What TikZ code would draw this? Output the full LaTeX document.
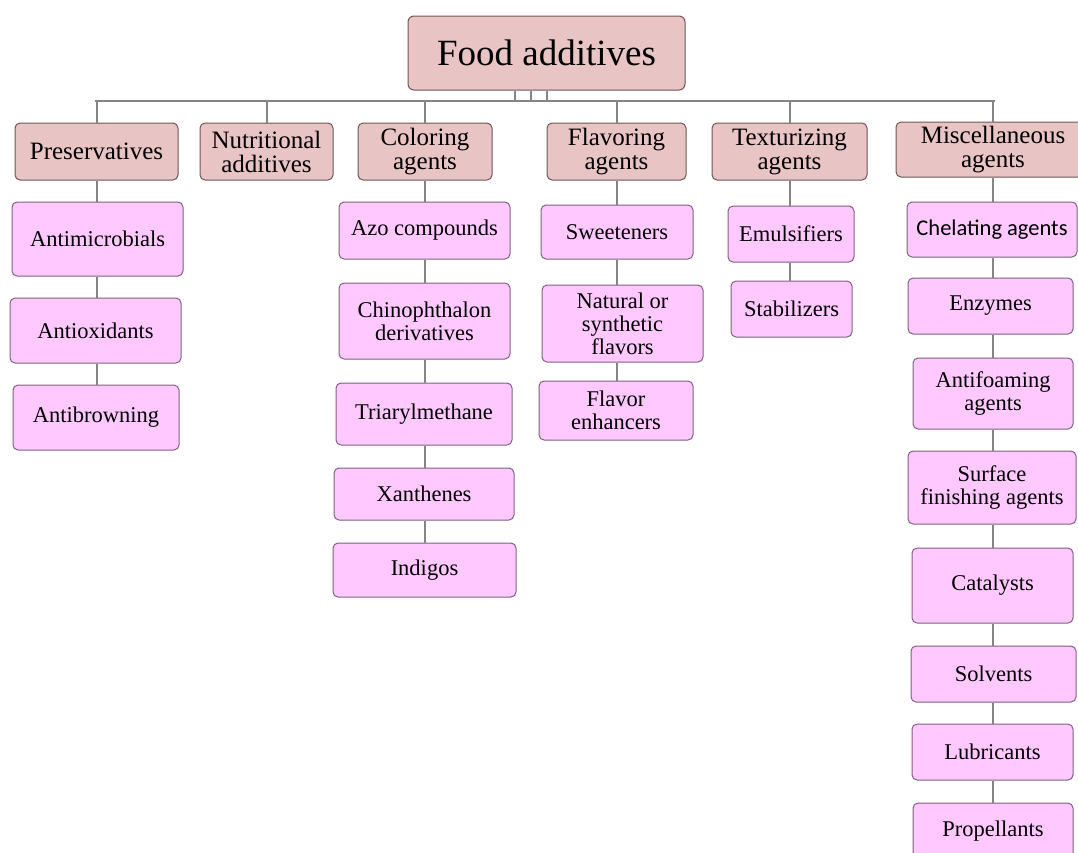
\documentclass[tikz,border=0pt]{standalone}
\usepackage{fontspec}
\setmainfont{Liberation Serif}
\newfontfamily\calibrifont{Carlito}
\usepackage{xcolor}
\definecolor{catfill}{RGB}{233,196,196}
\definecolor{catdraw}{RGB}{110,85,85}
\definecolor{itemfill}{RGB}{255,200,255}
\definecolor{itemdraw}{RGB}{125,98,125}
\definecolor{linkgray}{RGB}{132,132,132}
\usetikzlibrary{positioning}

\begin{document}
\begin{tikzpicture}[
  x=1pt,
  y=-1pt,
  topbox/.style={rectangle,rounded corners=6pt,fill=catfill,draw=catdraw,
    line width=1pt,inner sep=0pt,align=center,
    font=\fontsize{37}{37}\selectfont},
  catbox/.style={rectangle,rounded corners=5pt,fill=catfill,draw=catdraw,
    line width=1pt,inner sep=0pt,align=center,
    font=\fontsize{25}{24}\selectfont},
  itembox/.style={rectangle,rounded corners=5pt,fill=itemfill,draw=itemdraw,
    line width=1pt,inner sep=0pt,align=center,
    font=\fontsize{22.5}{23}\selectfont},
  link/.style={draw=linkgray,line width=2pt}
]
\useasboundingbox (0,0) rectangle (1078,852);

% Top of the tree
\node[topbox,minimum width=277pt,minimum height=74pt] (top) at (546.5,53)
  {Food additives};

% Bus line under the top box
\coordinate (busL) at (95,101);
\coordinate (busR) at (995,101);

% Categories
\node[catbox,minimum width=163pt,minimum height=57pt] (pres) at (96.5,151.5)
  {Preservatives};
\node[catbox,minimum width=133pt,minimum height=57pt] (nutri) at (266.5,151.5)
  {Nutritional\\additives};
\node[catbox,minimum width=134pt,minimum height=57pt] (colr) at (425,151.5)
  {Coloring\\agents};
\node[catbox,minimum width=139pt,minimum height=57pt] (flav) at (616.5,151.5)
  {Flavoring\\agents};
\node[catbox,minimum width=155pt,minimum height=57pt] (textur) at (789.5,151.5)
  {Texturizing\\agents};
\node[catbox,minimum width=194pt,minimum height=55pt] (misc) at (993,149.5)
  {Miscellaneous\\agents};

% Preservatives
\node[itembox,minimum width=171pt,minimum height=74pt] (pA) at (97.5,239)
  {Antimicrobials};
\node[itembox,minimum width=171pt,minimum height=65pt] (pB) at (95.5,330.5)
  {Antioxidants};
\node[itembox,minimum width=166pt,minimum height=65pt] (pC) at (96,417.5)
  {Antibrowning};

% Coloring agents
\node[itembox,minimum width=171pt,minimum height=57pt] (cA) at (424.5,230.5)
  {Azo compounds};
\node[itembox,minimum width=171pt,minimum height=76pt] (cB) at (424.5,321)
  {Chinophthalon\\derivatives};
\node[itembox,minimum width=176pt,minimum height=62pt] (cC) at (424,414)
  {Triarylmethane};
\node[itembox,minimum width=180pt,minimum height=52pt] (cD) at (424,494)
  {Xanthenes};
\node[itembox,minimum width=183pt,minimum height=54pt] (cE) at (424.5,570)
  {Indigos};

% Flavoring agents
\node[itembox,minimum width=152pt,minimum height=54pt] (fA) at (617,232)
  {Sweeteners};
\node[itembox,minimum width=161pt,minimum height=77pt] (fB) at (622.5,323.5)
  {Natural or\\synthetic\\flavors};
\node[itembox,minimum width=154pt,minimum height=59pt] (fC) at (616,410.5)
  {Flavor\\enhancers};

% Texturizing agents
\node[itembox,minimum width=126pt,minimum height=56pt] (tA) at (791,234)
  {Emulsifiers};
\node[itembox,minimum width=121pt,minimum height=56pt] (tB) at (791.5,309)
  {Stabilizers};

% Miscellaneous agents
\node[itembox,minimum width=170pt,minimum height=55pt,
  font=\calibrifont\fontsize{22.5}{23}\selectfont] (mA) at (992,229.5)
  {Chelating agents};
\node[itembox,minimum width=165pt,minimum height=56pt] (mB) at (990.5,306)
  {Enzymes};
\node[itembox,minimum width=160pt,minimum height=71pt] (mC) at (993,393.5)
  {Antifoaming\\agents};
\node[itembox,minimum width=168pt,minimum height=73pt] (mD) at (992,487.5)
  {Surface\\finishing agents};
\node[itembox,minimum width=161pt,minimum height=75pt] (mE) at (992.5,585.5)
  {Catalysts};
\node[itembox,minimum width=165pt,minimum height=56pt] (mF) at (993.5,674)
  {Solvents};
\node[itembox,minimum width=161pt,minimum height=56pt] (mG) at (992.5,752)
  {Lubricants};
\node[itembox,minimum width=160pt,minimum height=56pt] (mH) at (993,831)
  {Propellants};

% Top box down to the bus
\foreach \dx in {-31.5,-15.5,0}
  \draw[link] ([xshift=\dx pt]top.south) -- ++(0,11);
\draw[link] (busL) -- (busR);

% Bus down to the categories
\foreach \c in {pres,nutri,colr,flav,textur,misc}
  \draw[link] (\c.north |- busL) -- (\c.north);

% Columns
\foreach \a/\b in {pres/pA,pA/pB,pB/pC}
  \draw[link] (\a.south -| pres.south) -- (\b.north -| pres.south);
\foreach \a/\b in {colr/cA,cA/cB,cB/cC,cC/cD,cD/cE}
  \draw[link] (\a.south -| colr.south) -- (\b.north -| colr.south);
\foreach \a/\b in {flav/fA,fA/fB,fB/fC}
  \draw[link] (\a.south -| flav.south) -- (\b.north -| flav.south);
\foreach \a/\b in {textur/tA,tA/tB}
  \draw[link] (\a.south -| textur.south) -- (\b.north -| textur.south);
\foreach \a/\b in {misc/mA,mA/mB,mB/mC,mC/mD,mD/mE,mE/mF,mF/mG,mG/mH}
  \draw[link] (\a.south -| misc.south) -- (\b.north -| misc.south);

\end{tikzpicture}
\end{document}
